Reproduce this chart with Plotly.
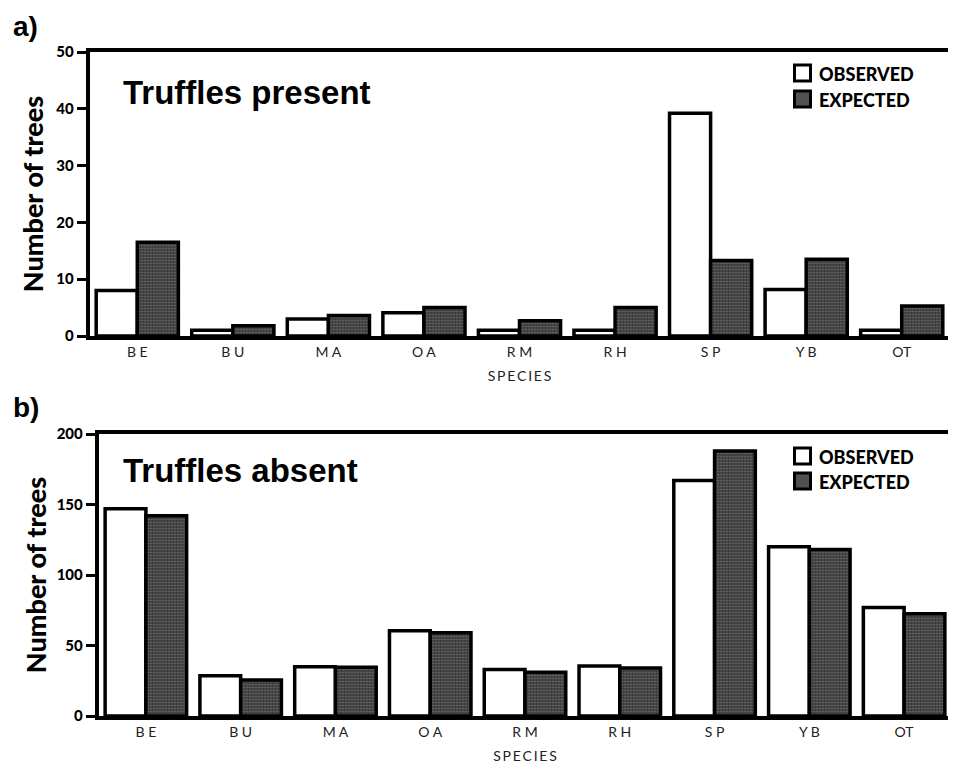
import plotly.graph_objects as go

species = ["BE", "BU", "MA", "OA", "RM", "RH", "SP", "YB", "OT"]
tick_labels = ["B E", "B U", "M A", "O A", "R M", "R H", "S P", "Y B", "OT"]

present_observed = [8.0, 1.0, 3.0, 4.1, 1.0, 1.0, 39.2, 8.2, 1.0]
present_expected = [16.5, 1.8, 3.6, 5.0, 2.7, 5.0, 13.3, 13.5, 5.3]

absent_observed = [147, 28.5, 35, 60.5, 33, 35.5, 167, 120, 77]
absent_expected = [142, 25.5, 34.5, 59, 31, 34, 188, 118, 72.5]

present_ticks = [0, 10, 20, 30, 40, 50]
absent_ticks = [0, 50, 100, 150, 200]

# page body has an 8px margin; figure is offset accordingly
OFF = 8
W, H = 956 - OFF, 774 - OFF

def px(x):
    return (x - OFF + 1.5) / W

def py(y):
    return 1 - (y - OFF) / H

fig = go.Figure()

exp_marker = dict(
    color="#4a4a4a",
    line=dict(color="black", width=3.5),
    pattern=dict(shape=".", fgcolor="#a8a8a8", bgcolor="#383838", size=3, solidity=0.3),
)
obs_marker = dict(color="white", line=dict(color="black", width=3.5))

fig.add_trace(go.Bar(x=species, y=present_observed, name="OBSERVED", marker=obs_marker,
                     xaxis="x", yaxis="y", showlegend=False))
fig.add_trace(go.Bar(x=species, y=present_expected, name="EXPECTED", marker=exp_marker,
                     xaxis="x", yaxis="y", showlegend=False))
fig.add_trace(go.Bar(x=species, y=absent_observed, name="OBSERVED", marker=obs_marker,
                     xaxis="x2", yaxis="y2", showlegend=False))
fig.add_trace(go.Bar(x=species, y=absent_expected, name="EXPECTED", marker=exp_marker,
                     xaxis="x2", yaxis="y2", showlegend=False))

tick_font = dict(family="Lato", size=15, color="black", weight=900)
xtick_font = dict(family="Lato", size=14, color="#222")
title_font = dict(family="Lato", size=27, color="black", weight=900)

def xaxis(domain, anchor):
    return dict(
        domain=domain, anchor=anchor, type="category", automargin=False,
        tickmode="array", tickvals=species, ticktext=tick_labels,
        tickfont=xtick_font, ticks="", showline=True, linecolor="black", linewidth=3.5,
        mirror=True, showgrid=False, zeroline=False,
        title=dict(text="S P E C I E S".replace(" ", "\u2009"),
                   font=dict(family="Lato", size=14, color="#222"), standoff=14),
    )

def yaxis(domain, anchor, rng, ticks, standoff):
    return dict(
        domain=domain, anchor=anchor, range=rng, tickmode="array", tickvals=ticks,
        automargin=False,
        tickfont=tick_font, ticks="outside", ticklen=9, tickwidth=2.5, tickcolor="black",
        showline=True, linecolor="black", linewidth=3.5, mirror=True,
        showgrid=False, zeroline=False,
        title=dict(text="Number of trees", font=title_font, standoff=standoff),
    )

fig.update_layout(
    width=W, height=H,
    margin=dict(l=0, r=0, t=0, b=0),
    paper_bgcolor="white", plot_bgcolor="white",
    barmode="group", bargap=0.14, bargroupgap=0,
    xaxis=xaxis([px(88), px(948)], "y"),
    yaxis=yaxis([py(336), py(52)], "x", [0, 50], present_ticks, 6),
    xaxis2=xaxis([px(97), px(950)], "y2"),
    yaxis2=yaxis([py(716), py(434)], "x2", [0, 200], absent_ticks, 3),
    showlegend=False,
)

ann = []
lab_font = dict(family="Liberation Sans", size=28, color="black", weight="bold")
ann.append(dict(text="a)", x=px(9), y=py(27), xref="paper", yref="paper", xanchor="left", yanchor="middle",
                showarrow=False, font=lab_font))
ann.append(dict(text="b)", x=px(9), y=py(407), xref="paper", yref="paper", xanchor="left", yanchor="middle",
                showarrow=False, font=lab_font))
ttl_font = dict(family="Liberation Sans", size=33, color="black", weight="bold")
ann.append(dict(text="Truffles present", x=px(119), y=py(92), xref="paper", yref="paper", xanchor="left",
                yanchor="middle", showarrow=False, font=ttl_font))
ann.append(dict(text="Truffles absent", x=px(119), y=py(470), xref="paper", yref="paper", xanchor="left",
                yanchor="middle", showarrow=False, font=ttl_font))

shapes = []
leg_font = dict(family="Lato", size=18, color="black", weight=900)
for (oy, ey) in [(73, 99), (456, 481)]:
    shapes.append(dict(type="rect", xref="paper", yref="paper", x0=px(793), x1=px(809),
                       y0=py(oy + 8), y1=py(oy - 8), fillcolor="white", line=dict(color="black", width=3)))
    shapes.append(dict(type="rect", xref="paper", yref="paper", x0=px(793), x1=px(809),
                       y0=py(ey + 8), y1=py(ey - 8), fillcolor="#505050", line=dict(color="black", width=3)))
    ann.append(dict(text="OBSERVED", x=px(815), y=py(oy + 1), xref="paper", yref="paper", xanchor="left",
                    yanchor="middle", showarrow=False, font=leg_font))
    ann.append(dict(text="EXPECTED", x=px(815), y=py(ey + 1), xref="paper", yref="paper", xanchor="left",
                    yanchor="middle", showarrow=False, font=leg_font))

fig.update_layout(annotations=ann, shapes=shapes)

fig.write_html("out.html")
